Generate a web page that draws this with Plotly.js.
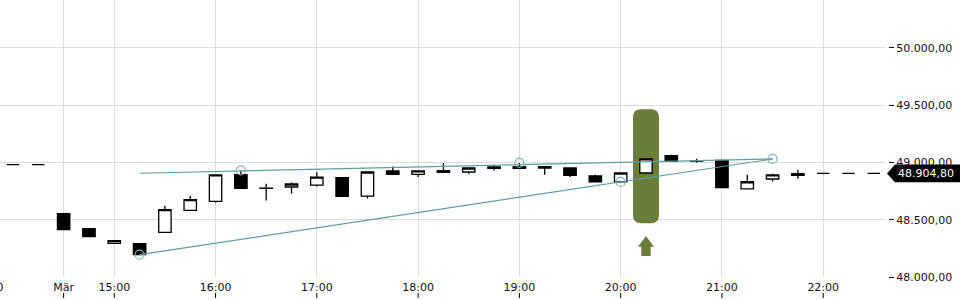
<!DOCTYPE html>
<html><head><meta charset="utf-8">
<script src="https://cdn.plot.ly/plotly-3.0.1.min.js"></script>
<style>
html,body{margin:0;padding:0;overflow:hidden;background:#fff;width:960px;height:300px}
#chart{position:absolute;left:-40px;top:0;width:1000px;height:300px}
</style>
</head><body><div id="chart"></div>
<script>
// candle slots (15-minute bars), slot 2 = first bar of the new day
const slots = [0,1,2,3,4,5,6,7,8,9,10,11,12,13,14,15,16,17,18,19,20,21,22,23,24,25,26,27,28,29,30,31,32,33,34];
const openV  = [48981,48981,48553,48422,48293,48291,48390,48582,48660,48893,48775,48786,48803,48867,48707,48926,48896,48928,48917,48961,48963,48963,48952,48882,48830,48908,49059,49013,49018,48769,48856,48902,48904.8,48904.8,48904.8];
const highV  = [48981,48981,48553,48422,48317,48291,48623,48710,48891,48931,48815,48826,48914,48867,48917,48966,48926,48996,48952,48981,48996,48963,48952,48893,48908,49031,49068,49033,49024,48893,48902,48937,48904.8,48904.8,48904.8];
const lowV   = [48981,48981,48413,48352,48293,48195,48390,48582,48651,48774,48669,48730,48791,48704,48686,48891,48873,48914,48900,48931,48948,48893,48873,48830,48830,48908,49010,48998,48780,48769,48835,48859,48904.8,48904.8,48904.8];
const closeV = [48981,48981,48413,48352,48317,48195,48588,48675,48891,48774,48774,48812,48873,48704,48917,48896,48926,48914,48952,48948,48948,48952,48887,48830,48908,49031,49010,49012,48780,48832,48891,48887,48904.8,48904.8,48904.8];

// x-axis tick labels
const tickSlots  = [-1, 2, 4, 8, 12, 16, 20, 24, 28, 32];
const tickLabels = ['22:00','Mär','15:00','16:00','17:00','18:00','19:00','20:00','21:00','22:00'];

// y-axis ticks
const priceTicks = [48000, 48500, 49000, 49500, 50000];

// trend lines
const upperLineX = [5, 30];
const upperLineY = [48906, 49031];
const lowerLineX = [5, 30];
const lowerLineY = [48195, 49031];
// anchor points (open circles)
const pivotX = [5, 9, 20, 24, 30];
const pivotY = [48195, 48931, 48996, 48830, 49031];

// signal
const signalSlot = 25;
const signalLevel = 48967;
const lastPrice = 48904.8;

function deFmt(v){
  const s = v.toFixed(2); const p = s.split('.');
  return p[0].replace(/\B(?=(\d{3})+(?!\d))/g,'.') + ',' + p[1];
}

const FONT = 'DejaVu Sans, sans-serif';
const teal = '#5f9ea0';
const olive = '#6a7d3a';

const traces = [
  {type:'scatter', mode:'lines', x:upperLineX, y:upperLineY, line:{color:teal, width:1.2}, hoverinfo:'skip'},
  {type:'scatter', mode:'lines', x:lowerLineX, y:lowerLineY, line:{color:teal, width:1.2}, hoverinfo:'skip'},
  {type:'scatter', mode:'markers', x:pivotX, y:pivotY,
   marker:{symbol:'circle-open', size:9, color:'#7fb2b4', line:{width:1.2, color:'#7fb2b4'}}, hoverinfo:'skip'},
  {type:'candlestick', x:slots, open:openV, high:highV, low:lowV, close:closeV,
   increasing:{line:{color:'#000', width:1.3}, fillcolor:'#fff'},
   decreasing:{line:{color:'#000', width:1.3}, fillcolor:'#000'},
   whiskerwidth:0, hoverinfo:'skip'}
];

const shapes = [];
// signal highlight (rounded bar)
shapes.push({type:'path', layer:'between', xref:'x', yref:'y', xsizemode:'pixel', ysizemode:'pixel',
  xanchor:signalSlot, yanchor:signalLevel,
  path:'M -13,-49 L -13,49 Q -13,57 -5,57 L 5,57 Q 13,57 13,49 L 13,-49 Q 13,-57 5,-57 L -5,-57 Q -13,-57 -13,-49 Z',
  fillcolor:olive, line:{width:0}});
// signal arrow
shapes.push({type:'path', layer:'above', xref:'x', yref:'y', xsizemode:'pixel', ysizemode:'pixel',
  xanchor:signalSlot, yanchor:signalLevel,
  path:'M 0,-69.7 L 8,-80.4 L 4.7,-80.4 L 4.7,-89.7 L -4.7,-89.7 L -4.7,-80.4 L -8,-80.4 Z',
  fillcolor:olive, line:{width:0}});
// price tag
shapes.push({type:'path', layer:'above', xref:'paper', yref:'y', xsizemode:'pixel', ysizemode:'pixel',
  xanchor:1, yanchor:lastPrice,
  path:'M -1,0 L 7,8.8 L 95,8.8 L 95,-8.8 L 7,-8.8 Z', fillcolor:'#000', line:{width:0}});
// x tick marks below labels
tickSlots.forEach(t => shapes.push({type:'line', layer:'above', xref:'x', yref:'paper', ysizemode:'pixel',
  yanchor:0, x0:t, x1:t, y0:-16, y1:-21, line:{color:'#000', width:1}}));

const layout = {
  width:1000, height:300,
  margin:{l:0, r:72, t:0, b:23, pad:0},
  paper_bgcolor:'#fff', plot_bgcolor:'#fff',
  showlegend:false, hovermode:false, dragmode:false,
  separators:',.',
  font:{family:FONT, size:11, color:'#111'},
  xaxis:{domain:[0, 925/928], range:[-2.093, 34.44], tickmode:'array', tickvals:tickSlots, ticktext:tickLabels,
    showgrid:true, gridcolor:'#dcdcdc', gridwidth:1, zeroline:false, showline:false, ticks:'',
    ticklabelstandoff:2,
    rangeslider:{visible:false}, tickfont:{family:FONT, size:11, color:'#111'}, fixedrange:true},
  yaxis:{side:'right', anchor:'free', position:1, range:[48000, 50419], tickmode:'array', tickvals:priceTicks,
    tickformat:',.2f', ticks:'outside', ticklen:5, tickwidth:1, tickcolor:'#111',
    showgrid:true, gridcolor:'#dcdcdc', gridwidth:1, zeroline:false, showline:false,
    tickfont:{family:FONT, size:11, color:'#111'}, fixedrange:true},
  shapes:shapes,
  annotations:[{xref:'paper', yref:'y', x:1, y:lastPrice, xanchor:'left', yanchor:'middle', xshift:8,
    text:deFmt(lastPrice), showarrow:false, font:{family:FONT, size:11, color:'#fff'}}]
};

Plotly.newPlot('chart', traces, layout, {displayModeBar:false, staticPlot:true});
</script>
</body></html>
